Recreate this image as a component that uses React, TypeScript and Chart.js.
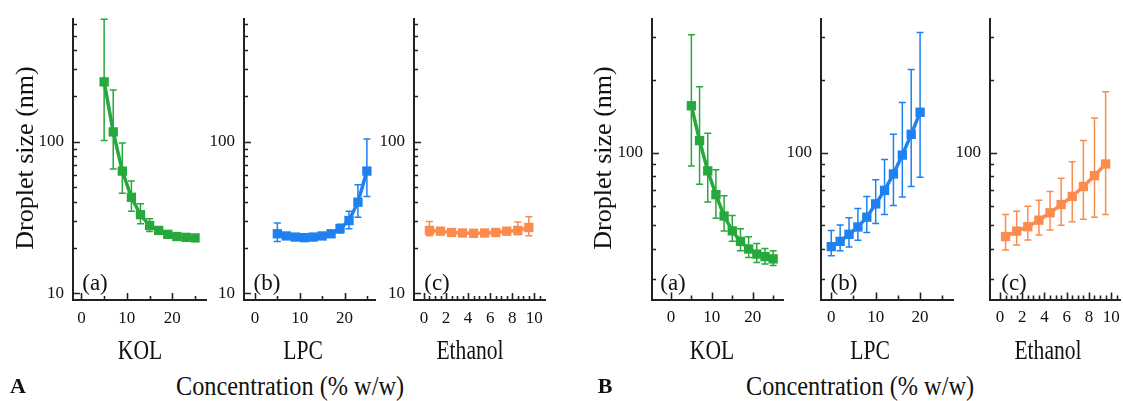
import React, { useEffect, useRef } from "react";
import { Chart, registerables } from "chart.js";

Chart.register(...registerables);

// ---------- data ----------
const kolConc = [5, 7, 9, 11, 13, 15, 17, 19, 21, 23, 25];
const lpcConcA = [5, 7, 9, 11, 13, 15, 17, 19, 21, 23, 25];
const ethConc = [0.5, 1.5, 2.5, 3.5, 4.5, 5.5, 6.5, 7.5, 8.5, 9.5];
const lpcConcB = [0, 2, 4, 6, 8, 10, 12, 14, 16, 18, 20];

// Panel A
const aKolSize = [248, 116, 64, 43, 33, 28, 26, 24.5, 23.7, 23.4, 23.2];
const aKolLow = [102, 66, 45.7, 34.8, 28.8, 25.6, 25, 23.5, 22.8, 22.6, 22.4];
const aKolHigh = [641, 219, 98, 55, 39, 31, 27.2, 25.5, 24.6, 24.2, 24];
const aLpcSize = [24.7, 23.9, 23.5, 23.3, 23.5, 23.9, 24.7, 26.7, 30.2, 39.9, 64];
const aLpcLow = [22, 22.8, 22.6, 22.5, 22.6, 22.9, 23.6, 25, 26.7, 31.8, 43.5];
const aLpcHigh = [29.1, 25, 24.4, 24.2, 24.4, 24.9, 25.8, 28.5, 34.8, 52, 104];
const aEthSize = [26, 25.7, 25.2, 25, 24.9, 25, 25.2, 25.7, 26, 27.2];
const aEthLow = [24, 24.5, 24.2, 24, 24, 24, 24.2, 24.5, 24.3, 24];
const aEthHigh = [29.8, 27, 26.2, 26, 25.9, 26, 26.3, 27, 29.5, 32];

// Panel B
const bKolSize = [156, 112, 84, 67, 54.7, 47.5, 43, 40, 38.1, 37.2, 36.4];
const bKolLow = [88, 74, 62.5, 53.5, 47.5, 43, 39.3, 36.9, 35.2, 34.7, 34.2];
const bKolHigh = [306, 187, 120, 85, 66.3, 55, 48.5, 44.9, 42.1, 40.2, 39.3];
const bLpcSize = [40.9, 43, 46, 49.3, 54.1, 61.4, 69.8, 81.6, 97.6, 118.9, 146.6];
const bLpcLow = [37.5, 39.3, 40.8, 43.5, 46.8, 50.9, 55.5, 60.4, 65.5, 72.4, 79];
const bLpcHigh = [47.7, 50.2, 53.8, 58.7, 65.9, 77.2, 93.6, 118.9, 161, 220, 313];
const bEthSize = [45, 47.4, 49.4, 52.6, 56.4, 61, 65.9, 72.4, 80.3, 89.7];
const bEthLow = [39.6, 41.5, 43.6, 45.7, 47.9, 50.1, 51.8, 53, 54.1, 55.5];
const bEthHigh = [55.5, 57.2, 60, 63.5, 69, 78.3, 91.6, 112, 139, 178];

// ---------- ticks ----------
const concTicks = [0, 5, 10, 15, 20, 25];
const concTickLabels = [0, 10, 20];
const ethTicks = [0, 0.5, 1, 1.5, 2, 2.5, 3, 3.5, 4, 4.5, 5, 5.5, 6, 6.5, 7, 7.5, 8, 8.5, 9, 9.5, 10, 10.5];
const ethTickLabels = [0, 2, 4, 6, 8, 10];
const sizeTicksA = [10, 20, 30, 40, 50, 60, 70, 80, 90, 100, 200, 300, 400, 500, 600];
const sizeTickLabelsA = [10, 100];
const sizeTicksB = [30, 40, 50, 60, 70, 80, 90, 100, 200, 300];
const sizeTickLabelsB = [100];

const GREEN = "#27a83c";
const BLUE = "#1f80ef";
const ORANGE = "#fc8b4e";

const FONT = "'Liberation Serif', 'Times New Roman', serif";

// ---------- layout ----------
const CANVAS_H = 335;
const PAD_L = 55;
const PAD_R = 6;

type Panel = {
  axisX: number; right: number; top: number; bottom: number;
  xMin: number; xMax: number; yMin: number; yMax: number;
  xTicks: number[]; xLabels: number[]; yTicks: number[]; yLabels: number[];
  xs: number[]; ys: number[]; lo: number[]; hi: number[]; color: string;
};

const panels: Panel[] = [
  { axisX: 73, right: 207, top: 18, bottom: 300, xMin: -1.85, xMax: 27.5, yMin: 9.04, yMax: 642,
    xTicks: concTicks, xLabels: concTickLabels, yTicks: sizeTicksA, yLabels: sizeTickLabelsA,
    xs: kolConc, ys: aKolSize, lo: aKolLow, hi: aKolHigh, color: GREEN },
  { axisX: 243.5, right: 375, top: 18, bottom: 300, xMin: -2.45, xMax: 26.9, yMin: 9.04, yMax: 642,
    xTicks: concTicks, xLabels: concTickLabels, yTicks: sizeTicksA, yLabels: sizeTickLabelsA,
    xs: lpcConcA, ys: aLpcSize, lo: aLpcLow, hi: aLpcHigh, color: BLUE },
  { axisX: 413.5, right: 545, top: 18, bottom: 300, xMin: -0.9, xMax: 11, yMin: 9.04, yMax: 642,
    xTicks: ethTicks, xLabels: ethTickLabels, yTicks: sizeTicksA, yLabels: sizeTickLabelsA,
    xs: ethConc, ys: aEthSize, lo: aEthLow, hi: aEthHigh, color: ORANGE },
  { axisX: 651.5, right: 783, top: 16, bottom: 299.5, xMin: -4.63, xMax: 27.5, yMin: 24.75, yMax: 355,
    xTicks: concTicks, xLabels: concTickLabels, yTicks: sizeTicksB, yLabels: sizeTickLabelsB,
    xs: kolConc, ys: bKolSize, lo: bKolLow, hi: bKolHigh, color: GREEN },
  { axisX: 820.5, right: 953, top: 16, bottom: 299.5, xMin: -2.31, xMax: 27.5, yMin: 24.75, yMax: 355,
    xTicks: concTicks, xLabels: concTickLabels, yTicks: sizeTicksB, yLabels: sizeTickLabelsB,
    xs: lpcConcB, ys: bLpcSize, lo: bLpcLow, hi: bLpcHigh, color: BLUE },
  { axisX: 989.5, right: 1120, top: 16, bottom: 299.5, xMin: -0.9, xMax: 10.83, yMin: 24.75, yMax: 355,
    xTicks: ethTicks, xLabels: ethTickLabels, yTicks: sizeTicksB, yLabels: sizeTickLabelsB,
    xs: ethConc, ys: bEthSize, lo: bEthLow, hi: bEthHigh, color: ORANGE },
];

function PanelChart({ p }: { p: Panel }) {
  const ref = useRef<HTMLCanvasElement>(null);
  const width = Math.round(p.right - p.axisX) + PAD_L + PAD_R;

  useEffect(() => {
    const errorBars = {
      id: "errorBars",
      beforeDatasetsDraw(chart: any) {
        const { ctx } = chart;
        const xs = chart.scales.x;
        const ys = chart.scales.y;
        ctx.save();
        ctx.strokeStyle = p.color;
        ctx.lineWidth = 1.5;
        p.xs.forEach((xv, i) => {
          const px = xs.getPixelForValue(xv);
          const yl = ys.getPixelForValue(p.lo[i]);
          const yh = ys.getPixelForValue(p.hi[i]);
          ctx.beginPath();
          ctx.moveTo(px, yl);
          ctx.lineTo(px, yh);
          ctx.moveTo(px - 3.5, yl);
          ctx.lineTo(px + 3.5, yl);
          ctx.moveTo(px - 3.5, yh);
          ctx.lineTo(px + 3.5, yh);
          ctx.stroke();
        });
        ctx.restore();
      },
    };
    const innerTicks = {
      id: "innerTicks",
      afterDraw(chart: any) {
        const { ctx, chartArea } = chart;
        const xs = chart.scales.x;
        const ys = chart.scales.y;
        ctx.save();
        ctx.strokeStyle = "#222";
        ctx.lineWidth = 1.6;
        ctx.beginPath();
        p.yTicks.forEach((v) => {
          const py = Math.round(ys.getPixelForValue(v)) + 0.5;
          const len = p.yLabels.includes(v) ? 7 : 4;
          ctx.moveTo(chartArea.left, py);
          ctx.lineTo(chartArea.left + len, py);
        });
        p.xTicks.forEach((v) => {
          const px = Math.round(xs.getPixelForValue(v)) + 0.5;
          const len = p.xLabels.includes(v) ? 7 : 4;
          ctx.moveTo(px, chartArea.bottom);
          ctx.lineTo(px, chartArea.bottom - len);
        });
        ctx.stroke();
        ctx.restore();
      },
    };

    const chart = new Chart(ref.current as HTMLCanvasElement, {
      type: "line",
      data: {
        datasets: [
          {
            data: p.xs.map((x, i) => ({ x, y: p.ys[i] })),
            borderColor: p.color,
            backgroundColor: p.color,
            borderWidth: 3.5,
            tension: 0,
            pointStyle: "rect",
            pointRadius: 6.6,
            pointBorderWidth: 0,
            pointBackgroundColor: p.color,
            clip: false as any,
          },
        ],
      },
      options: {
        animation: false,
        responsive: false,
        maintainAspectRatio: false,
        layout: { padding: { top: p.top, right: PAD_R, left: 0, bottom: 0 } },
        plugins: { legend: { display: false }, tooltip: { enabled: false } },
        scales: {
          x: {
            type: "linear",
            min: p.xMin,
            max: p.xMax,
            afterFit: (s: any) => { s.height = CANVAS_H - p.bottom; },
            afterBuildTicks: (s: any) => { s.ticks = p.xTicks.map((v) => ({ value: v })); },
            grid: { display: false, drawTicks: false },
            border: { display: true, color: "#222", width: 2 },
            ticks: {
              autoSkip: false,
              maxRotation: 0,
              padding: 8,
              color: "#111",
              font: { family: FONT, size: 17 },
              callback: (v: any) => (p.xLabels.includes(Number(v)) ? String(v) : ""),
            },
          },
          y: {
            type: "logarithmic",
            min: p.yMin,
            max: p.yMax,
            afterFit: (s: any) => { s.width = PAD_L; },
            afterBuildTicks: (s: any) => { s.ticks = p.yTicks.map((v) => ({ value: v })); },
            grid: { display: false, drawTicks: false },
            border: { display: true, color: "#222", width: 2 },
            ticks: {
              autoSkip: false,
              padding: 9,
              color: "#111",
              font: { family: FONT, size: 17 },
              callback: (v: any) => (p.yLabels.includes(Number(v)) ? String(v) : ""),
            },
          },
        },
      } as any,
      plugins: [errorBars, innerTicks],
    });
    return () => chart.destroy();
  }, []);

  return (
    <canvas
      ref={ref}
      width={width}
      height={CANVAS_H}
      style={{ position: "absolute", left: Math.round(p.axisX) - PAD_L, top: 0, width, height: CANVAS_H }}
    />
  );
}

const panelLetters = [
  { t: "(a)", x: 95, y: 282 },
  { t: "(b)", x: 267, y: 282 },
  { t: "(c)", x: 437, y: 282 },
  { t: "(a)", x: 673, y: 282 },
  { t: "(b)", x: 844, y: 282 },
  { t: "(c)", x: 1014, y: 282 },
];

const componentNames = [
  { t: "KOL", x: 140, y: 350 },
  { t: "LPC", x: 303, y: 350 },
  { t: "Ethanol", x: 470, y: 350 },
  { t: "KOL", x: 712, y: 350 },
  { t: "LPC", x: 870, y: 350 },
  { t: "Ethanol", x: 1048, y: 350 },
];

const xTitles = [
  { t: "Concentration (% w/w)", x: 290, y: 386 },
  { t: "Concentration (% w/w)", x: 860, y: 386 },
];

const yTitles = [
  { t: "Droplet size (nm)", x: 25, y: 158 },
  { t: "Droplet size (nm)", x: 603, y: 158 },
];

const figLetters = [
  { t: "A", x: 18, y: 386 },
  { t: "B", x: 605, y: 386 },
];

export default function App() {
  const abs = (x: number, y: number, extra: any = {}) => ({
    position: "absolute" as const,
    left: x,
    top: y,
    transform: "translate(-50%, -50%)",
    whiteSpace: "nowrap" as const,
    lineHeight: 1,
    fontFamily: FONT,
    color: "#111",
    ...extra,
  });
  return (
    <div style={{ position: "absolute", left: 0, top: 0, width: 1123, height: 401, background: "#fff", overflow: "hidden" }}>
      {panels.map((p, i) => (
        <PanelChart key={i} p={p} />
      ))}
      {panelLetters.map((l, i) => (
        <div key={"l" + i} style={abs(l.x, l.y, { fontSize: 23 })}>{l.t}</div>
      ))}
      {componentNames.map((l, i) => (
        <div key={"c" + i} style={abs(l.x, l.y, { fontSize: 27, transform: "translate(-50%, -50%) scaleX(0.8)" })}>{l.t}</div>
      ))}
      {xTitles.map((l, i) => (
        <div key={"x" + i} style={abs(l.x, l.y, { fontSize: 27, transform: "translate(-50%, -50%) scaleX(0.9)" })}>{l.t}</div>
      ))}
      {yTitles.map((l, i) => (
        <div key={"y" + i} style={abs(l.x, l.y, { fontSize: 26, transform: "translate(-50%, -50%) rotate(-90deg)" })}>{l.t}</div>
      ))}
      {figLetters.map((l, i) => (
        <div key={"f" + i} style={abs(l.x, l.y, { fontSize: 22, fontWeight: "bold" })}>{l.t}</div>
      ))}
    </div>
  );
}
